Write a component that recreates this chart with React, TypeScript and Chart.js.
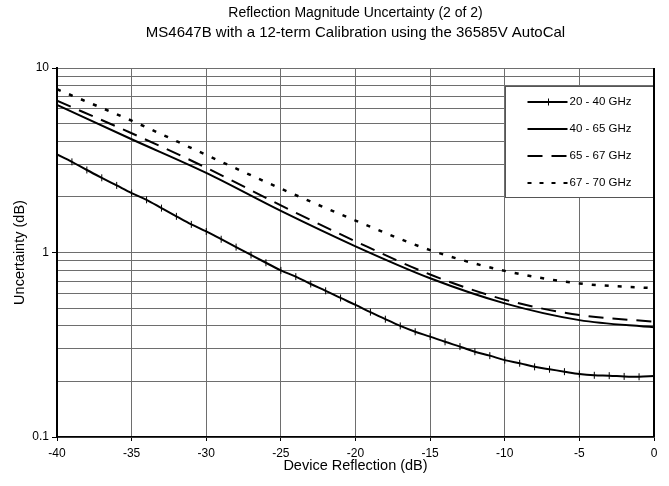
import React, { useEffect, useRef } from "react";
import { Chart, registerables } from "chart.js";

Chart.register(...registerables);

// ---------- data ----------
const xs1 = [
  -40, -39, -38, -37, -36, -35, -34, -33, -32, -31, -30, -29, -28, -27, -26, -25, -24, -23, -22, -21,
  -20, -19, -18, -17, -16, -15, -14, -13, -12, -11, -10, -9, -8, -7, -6, -5, -4, -3, -2, -1, 0,
];
const s20to40 = [
  3.4, 3.1, 2.8, 2.54, 2.31, 2.1, 1.93, 1.74, 1.57, 1.42, 1.3, 1.18, 1.07, 0.97, 0.88, 0.8, 0.74, 0.675,
  0.62, 0.567, 0.52, 0.475, 0.435, 0.4, 0.372, 0.35, 0.328, 0.309, 0.29, 0.276, 0.261, 0.251, 0.24,
  0.233, 0.226, 0.2195, 0.216, 0.215, 0.213, 0.212, 0.214,
];
const xs5 = [-40, -35, -30, -25, -20, -15, -10, -5, 0];
const s40to65 = [6.3, 4.11, 2.7, 1.68, 1.08, 0.725, 0.53, 0.43, 0.393];
const s65to67 = [6.65, 4.43, 2.88, 1.8, 1.15, 0.76, 0.555, 0.458, 0.422];
const s67to70 = [7.67, 5.18, 3.38, 2.22, 1.49, 1.03, 0.795, 0.68, 0.64];

const seriesNames = ["20 - 40 GHz", "40 - 65 GHz", "65 - 67 GHz", "67 - 70 GHz"];
const xTickValues = [-40, -35, -30, -25, -20, -15, -10, -5, 0];
const yTickValues = [
  0.1, 0.2, 0.3, 0.4, 0.5, 0.6, 0.7, 0.8, 0.9, 1, 2, 3, 4, 5, 6, 7, 8, 9, 10,
];
const yLabelValues = [0.1, 1, 10];
const titleLine1 = "Reflection Magnitude Uncertainty (2 of 2)";
const titleLine2 = "MS4647B with a 12-term Calibration using the 36585V AutoCal";
const xAxisTitle = "Device Reflection (dB)";
const yAxisTitle = "Uncertainty (dB)";

const FONT = '"Liberation Sans", Arial, sans-serif';
const DASH_DASHED = [15, 9];
const DASH_DOTTED = [4, 9];

const toPoints = (xs: number[], ys: number[]) => xs.map((x, i) => ({ x, y: ys[i] }));

const decorPlugin = {
  id: "decor",
  beforeDatasetsDraw(chart: any) {
    const { ctx, scales } = chart;
    const xs = scales.x;
    const ys = scales.y;
    const x0 = Math.round(xs.getPixelForValue(-10)) + 0.5;
    const x1 = Math.round(xs.getPixelForValue(0)) + 0.5;
    const y0 = Math.round(ys.getPixelForValue(8)) + 0.5;
    const y1 = Math.round(ys.getPixelForValue(2)) + 0.5;
    ctx.save();
    ctx.fillStyle = "#ffffff";
    ctx.fillRect(x0, y0, x1 - x0, y1 - y0);
    ctx.strokeStyle = "#555555";
    ctx.lineWidth = 1;
    ctx.strokeRect(x0, y0, x1 - x0, y1 - y0);

    const rowStart = y0 + 15.5;
    const rowGap = 27;
    const lx0 = x0 + 22;
    const lx1 = x0 + 62;
    ctx.font = `11.5px ${FONT}`;
    ctx.textBaseline = "middle";
    ctx.textAlign = "left";
    seriesNames.forEach((name, i) => {
      const y = Math.round(rowStart + i * rowGap);
      ctx.strokeStyle = "#000";
      ctx.lineWidth = 2;
      ctx.lineCap = "butt";
      ctx.setLineDash(i === 2 ? DASH_DASHED : i === 3 ? [4, 8] : []);
      ctx.beginPath();
      ctx.moveTo(lx0, y);
      ctx.lineTo(lx1, y);
      ctx.stroke();
      ctx.setLineDash([]);
      if (i === 0) {
        ctx.lineWidth = 1;
        const mx = Math.round((lx0 + lx1) / 2) + 0.5;
        ctx.beginPath();
        ctx.moveTo(mx, y - 3.5);
        ctx.lineTo(mx, y + 3.5);
        ctx.stroke();
      }
      ctx.fillStyle = "#000";
      ctx.fillText(name, lx1 + 2, y);
    });
    ctx.restore();
  },
  afterDatasetsDraw(chart: any) {
    const { ctx, chartArea } = chart;
    ctx.save();
    ctx.strokeStyle = "#000";
    ctx.lineWidth = 2;
    ctx.beginPath();
    ctx.moveTo(chartArea.right, chartArea.top);
    ctx.lineTo(chartArea.right, chartArea.bottom);
    ctx.stroke();
    ctx.restore();
  },
  afterDraw(chart: any) {
    const { ctx, chartArea } = chart;
    const cx = (chartArea.left + chartArea.right) / 2;
    ctx.save();
    ctx.fillStyle = "#000";
    ctx.textAlign = "center";
    ctx.textBaseline = "middle";
    ctx.font = `14px ${FONT}`;
    ctx.fillText(titleLine1, cx, 13);
    ctx.font = `15px ${FONT}`;
    ctx.fillText(titleLine2, cx, 33);
    ctx.font = `14.5px ${FONT}`;
    ctx.fillText(xAxisTitle, cx, 466);
    ctx.translate(20, (chartArea.top + chartArea.bottom) / 2);
    ctx.rotate(-Math.PI / 2);
    ctx.font = `14.5px ${FONT}`;
    ctx.fillText(yAxisTitle, 0, 0);
    ctx.restore();
  },
};

export default function App() {
  const ref = useRef<HTMLCanvasElement>(null);

  useEffect(() => {
    const canvas = ref.current;
    if (!canvas) return;
    const chart = new Chart(canvas, {
      type: "line",
      data: {
        datasets: [
          {
            label: seriesNames[0],
            data: toPoints(xs1, s20to40),
            borderColor: "#000",
            borderWidth: 2,
            pointStyle: "line",
            pointRotation: 90,
            pointRadius: 3.5,
            pointBorderWidth: 1,
            pointBorderColor: "#000",
            pointBackgroundColor: "#000",
            cubicInterpolationMode: "monotone",
          },
          {
            label: seriesNames[1],
            data: toPoints(xs5, s40to65),
            borderColor: "#000",
            borderWidth: 2,
            pointRadius: 0,
            cubicInterpolationMode: "monotone",
          },
          {
            label: seriesNames[2],
            data: toPoints(xs5, s65to67),
            borderColor: "#000",
            borderWidth: 2,
            borderDash: DASH_DASHED,
            pointRadius: 0,
            cubicInterpolationMode: "monotone",
          },
          {
            label: seriesNames[3],
            data: toPoints(xs5, s67to70),
            borderColor: "#000",
            borderWidth: 2.5,
            borderDash: DASH_DOTTED,
            pointRadius: 0,
            cubicInterpolationMode: "monotone",
          },
        ] as any,
      },
      options: {
        responsive: false,
        animation: false,
        devicePixelRatio: 1,
        events: [],
        layout: { padding: { top: 68, right: 15, left: 0, bottom: 0 } },
        plugins: {
          legend: { display: false },
          title: { display: false },
          tooltip: { enabled: false },
        },
        scales: {
          x: {
            type: "linear",
            min: -40,
            max: 0,
            afterBuildTicks: (s: any) => {
              s.ticks = xTickValues.map((v) => ({ value: v }));
            },
            afterFit: (s: any) => {
              s.height = 49;
            },
            ticks: {
              color: "#000",
              font: { family: FONT, size: 12 },
              padding: 5,
              maxRotation: 0,
              autoSkip: false,
              callback: (v: any) => String(v),
            },
            grid: {
              color: "#6e6e6e",
              lineWidth: 1,
              drawTicks: true,
              tickLength: 4,
              tickColor: "#000",
            },
            border: { display: true, color: "#000", width: 1.5 },
          },
          y: {
            type: "logarithmic",
            min: 0.1,
            max: 10,
            afterBuildTicks: (s: any) => {
              s.ticks = yTickValues.map((v) => ({ value: v }));
            },
            afterFit: (s: any) => {
              s.width = 57;
            },
            ticks: {
              color: "#000",
              font: { family: FONT, size: 12 },
              padding: 3,
              autoSkip: false,
              callback: (v: any) => {
                const n = Number(v);
                return yLabelValues.some((m) => Math.abs(m - n) < 1e-9) ? String(n) : "";
              },
            },
            grid: {
              color: "#6e6e6e",
              lineWidth: 1,
              drawTicks: true,
              tickLength: 5,
              tickColor: (c: any) => {
                const n = c.tick ? Number(c.tick.value) : 0;
                return yLabelValues.some((m) => Math.abs(m - n) < 1e-9) ? "#000" : "rgba(0,0,0,0)";
              },
            },
            border: { display: true, color: "#000", width: 2 },
          },
        },
      } as any,
      plugins: [decorPlugin],
    });
    return () => chart.destroy();
  }, []);

  return (
    <div style={{ position: "fixed", left: 0, top: 0, width: 669, height: 486, background: "#fff" }}>
      <canvas ref={ref} width={669} height={486} style={{ width: 669, height: 486, display: "block" }} />
    </div>
  );
}
